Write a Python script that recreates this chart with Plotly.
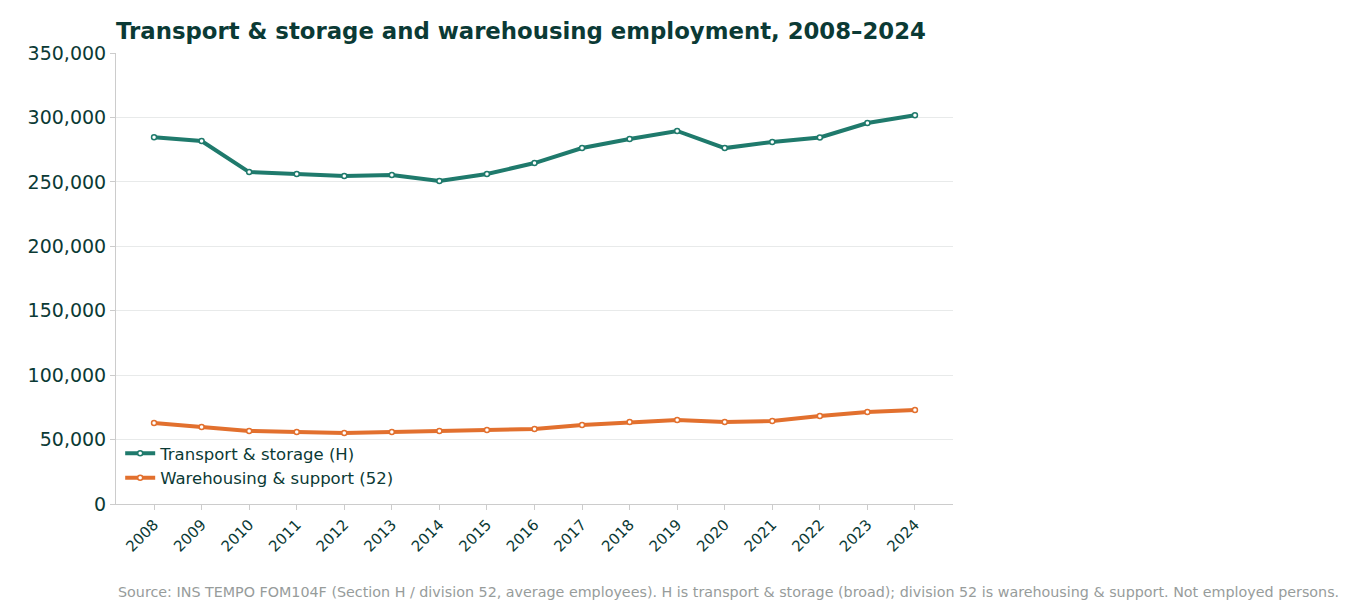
import plotly.graph_objects as go

years = [str(y) for y in range(2008, 2025)]
transport = [284664, 281700, 257600, 256100, 254500, 255300, 250700, 256100, 264600,
             276300, 283300, 289500, 276200, 280900, 284400, 295700, 301707]
warehousing = [62900, 59800, 56700, 55900, 55100, 55900, 56700, 57400, 58200,
               61300, 63600, 65200, 63600, 64400, 68300, 71400, 72900]

TEAL = '#1f7a6c'
ORANGE = '#e2702e'
DARK = '#0b3a35'
FONT = 'DejaVu Sans'

fig = go.Figure()
fig.add_trace(go.Scatter(
    x=years, y=transport, name='Transport & storage (H)', mode='lines+markers',
    line=dict(color=TEAL, width=4),
    marker=dict(size=5, color='white', line=dict(color=TEAL, width=1.5))
))
fig.add_trace(go.Scatter(
    x=years, y=warehousing, name='Warehousing & support (52)', mode='lines+markers',
    line=dict(color=ORANGE, width=4),
    marker=dict(size=5, color='white', line=dict(color=ORANGE, width=1.5))
))

# labelled points
for yr, val, dx in [('2008', 284664, 0), ('2020', 276200, 0), ('2024', 301707, 0)]:
    fig.add_annotation(x=yr, y=val, text=f'<b>{val:,}</b>', showarrow=False,
                       xshift=dx, yshift=22, font=dict(family=FONT, size=14, color=DARK))

fig.add_annotation(x=0, y=-0.195, xref='paper', yref='paper', xanchor='left', yanchor='middle',
                   text='Source: INS TEMPO FOM104F (Section H / division 52, average employees). H is transport & storage (broad); division 52 is warehousing & support. Not employed persons.',
                   showarrow=False, font=dict(family=FONT, size=14.3, color='#979c9b'))

fig.update_layout(
    width=1351, height=606,
    margin=dict(l=108, r=406, t=45, b=110),
    plot_bgcolor='white', paper_bgcolor='white',
    font=dict(family=FONT, color=DARK),
    title=dict(text='<b>Transport & storage and warehousing employment, 2008–2024</b>',
               x=108/1351, xanchor='left', y=0.962, yanchor='middle',
               font=dict(size=22.8, color=DARK)),
    showlegend=True,
    legend=dict(x=0.005, y=0.02, xanchor='left', yanchor='bottom', bgcolor='rgba(0,0,0,0)',
                font=dict(size=16.5, color=DARK)),
    xaxis=dict(tickangle=-45, tickfont=dict(size=15, color=DARK), showgrid=False,
               showline=True, linecolor='#cccccc', ticks='outside', tickcolor='#cccccc',
               range=[-0.8, 16.8]),
    yaxis=dict(range=[0, 350000], dtick=50000, tickformat=',', tickfont=dict(size=19, color=DARK),
               showgrid=True, gridcolor='#e8eaea', showline=True, linecolor='#cccccc',
               ticks='outside', tickcolor='#cccccc', zeroline=False),
)

fig.write_html('out.html')
